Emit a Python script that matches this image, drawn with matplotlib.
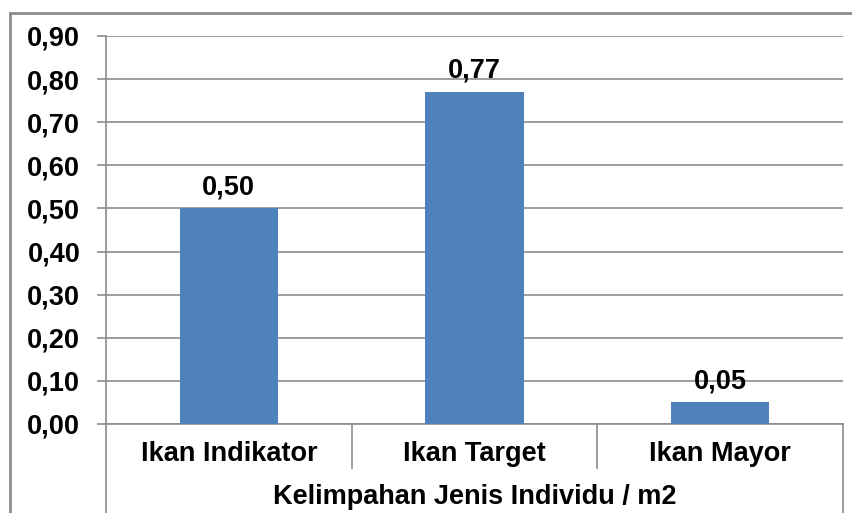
import matplotlib
matplotlib.use("Agg")
import matplotlib.pyplot as plt
from matplotlib.lines import Line2D

categories = ["Ikan Indikator", "Ikan Target", "Ikan Mayor"]
values = [0.50, 0.77, 0.05]
yticks = [0.0, 0.1, 0.2, 0.3, 0.4, 0.5, 0.6, 0.7, 0.8, 0.9]
group_label = "Kelimpahan Jenis Individu / m2"

W, H = 853, 513
fig = plt.figure(figsize=(W / 100, H / 100), dpi=100)
plt.rcParams['font.family'] = ['Liberation Sans', 'DejaVu Sans']

L, R, T, B = 106, 843, 36, 424
ax = fig.add_axes([L / W, 1 - B / H, (R - L) / W, (B - T) / H])

gray = "#8c8c8c"
bar_color = "#4F81BD"
fs = 19.5

x = list(range(len(categories)))
bars = ax.bar(x, values, width=0.4, color=bar_color, zorder=3)
ax.set_xlim(-0.5, len(categories) - 0.5)
ax.set_ylim(0, 0.9)
ax.set_yticks(yticks)
ax.set_yticklabels([f"{v:.2f}".replace(".", ",") for v in yticks],
                   fontsize=fs, fontweight="bold")
ax.yaxis.grid(True, color=gray, linewidth=1.2, zorder=0)
ax.tick_params(axis="y", length=6.5, color=gray, width=1.2, pad=12)
ax.tick_params(axis="x", length=0, labelbottom=False)
for s in ["top", "right"]:
    ax.spines[s].set_visible(False)
for s in ["left", "bottom"]:
    ax.spines[s].set_color(gray)
    ax.spines[s].set_linewidth(1.2)

for b, v in zip(bars, values):
    ax.annotate(f"{v:.2f}".replace(".", ","), (b.get_x() + b.get_width() / 2, v),
                xytext=(0, 6), textcoords="offset points", ha="center", va="bottom",
                fontsize=fs, fontweight="bold")

def fy(p):
    return 1 - p / H
def fx(p):
    return p / W

# category separators
n = len(categories)
for i in range(n + 1):
    px = L + (R - L) * i / n
    bottom = 513 if i in (0, n) else 468
    fig.add_artist(Line2D([fx(px), fx(px)], [fy(B), fy(bottom)], color=gray, lw=1.2))
for i, c in enumerate(categories):
    px = L + (R - L) * (i + 0.5) / n
    fig.text(fx(px), fy(454), c, ha="center", va="center", fontsize=fs, fontweight="bold")
fig.text(fx((L + R) / 2), fy(497), group_label, ha="center", va="center",
         fontsize=fs, fontweight="bold")

# outer border
fig.add_artist(Line2D([fx(10), fx(853)], [fy(13), fy(13)], color=gray, lw=2))
fig.add_artist(Line2D([fx(10), fx(10)], [fy(13), fy(513)], color=gray, lw=2))

fig.savefig("out.png", dpi=100)
